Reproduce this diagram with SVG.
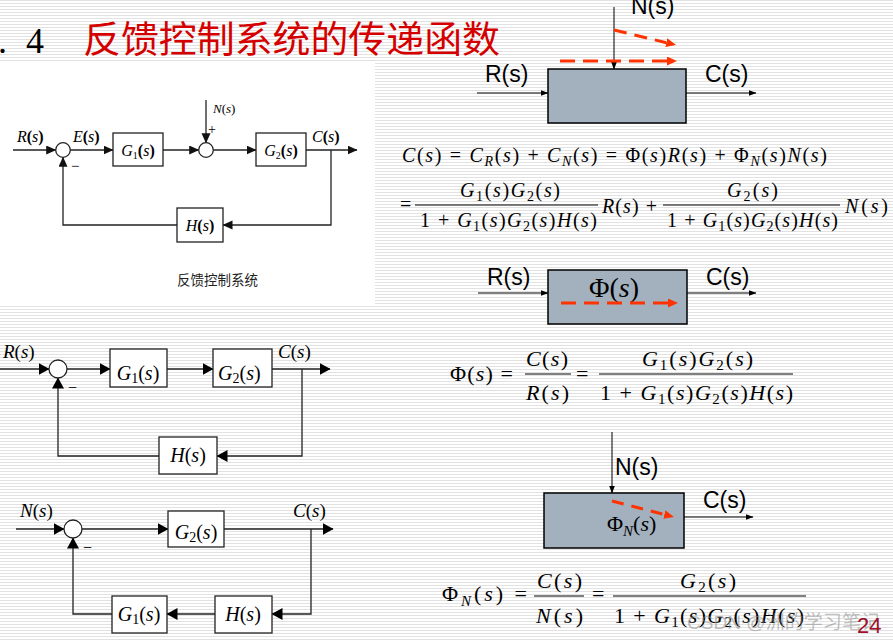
<svg xmlns="http://www.w3.org/2000/svg" width="893" height="642" viewBox="0 0 893 642">
<defs>
<pattern id="bg" width="8" height="3" patternUnits="userSpaceOnUse"><rect width="8" height="3" fill="#fff"/><rect width="8" height="1" fill="#e2e2e2"/></pattern>
<marker id="a1" markerUnits="userSpaceOnUse" markerWidth="11" markerHeight="10" refX="9.5" refY="4.5" orient="auto"><path d="M0,0 L10,4.5 L0,9 z" fill="#111"/></marker>
<marker id="a2" markerUnits="userSpaceOnUse" markerWidth="12" markerHeight="12" refX="10.5" refY="6" orient="auto"><path d="M0,0 L11,6 L0,12 z" fill="#000"/></marker>
<marker id="a3" markerUnits="userSpaceOnUse" markerWidth="9" markerHeight="7" refX="7.5" refY="3" orient="auto"><path d="M0,0 L8,3 L0,6 z" fill="#000"/></marker>
<marker id="ar" markerUnits="userSpaceOnUse" markerWidth="11" markerHeight="10" refX="0" refY="4.5" orient="auto"><path d="M0,0 L10,4.5 L0,9 z" fill="#ff3300"/></marker>
<style>
.ln{stroke:#222;stroke-width:1.3;fill:none}
.bx{fill:#fff;stroke:#222;stroke-width:1.3}
.rb{fill:#a3b1bf;stroke:#000;stroke-width:1.5}
.rl{stroke:#000;stroke-width:1;fill:none}
.rd{stroke:#ff3300;stroke-width:3;fill:none}
.ser{font-family:"Liberation Serif","Times New Roman",serif;fill:#000}
.san{font-family:"Liberation Sans",Arial,sans-serif;fill:#000}
.cjk{font-family:"Noto Sans CJK SC",sans-serif}
.i{font-style:italic}
.b{font-weight:bold}
</style>
</defs>
<rect width="893" height="642" fill="url(#bg)"/>
<rect x="0" y="62" width="375" height="243" fill="#fff"/>

<g id="title" fill="#d40000">
<text class="ser" x="-2" y="53" font-size="36" fill="#d40000">.</text>
<text class="ser" x="26" y="53" font-size="36" fill="#d40000">4</text>
<text class="cjk" x="83" y="53" font-size="37" textLength="417" lengthAdjust="spacingAndGlyphs">反馈控制系统的传递函数</text>
</g>

<!-- Top-left diagram -->
<g id="d1">
<g id="d1-connectors">
<line class="ln" x1="13" y1="150" x2="55.7" y2="150" marker-end="url(#a1)"/>
<line class="ln" x1="70.3" y1="150" x2="113" y2="150" marker-end="url(#a1)"/>
<line class="ln" x1="163" y1="150" x2="198.7" y2="150" marker-end="url(#a1)"/>
<line class="ln" x1="206" y1="100" x2="206" y2="142.7" marker-end="url(#a1)"/>
<line class="ln" x1="213.3" y1="150" x2="256" y2="150" marker-end="url(#a1)"/>
<line class="ln" x1="306" y1="150" x2="357" y2="150" marker-end="url(#a1)"/>
<polyline class="ln" points="331,150 331,225 223,225" marker-end="url(#a1)"/>
<polyline class="ln" points="177,225 63,225 63,157.3" marker-end="url(#a1)"/>
</g>
<g id="d1-sum1"><circle class="bx" cx="63" cy="150" r="7.3"/><text class="ser" x="71" y="171" font-size="15">−</text></g>
<g id="d1-G1"><rect class="bx" x="113" y="133" width="50" height="33"/><text class="ser" x="138" y="156" font-size="16" text-anchor="middle"><tspan class="i">G</tspan><tspan font-size="10" dy="3">1</tspan><tspan class="b" dy="-3">(</tspan><tspan class="i">s</tspan><tspan class="b">)</tspan></text></g>
<g id="d1-sum2"><circle class="bx" cx="206" cy="150" r="7.3"/><text class="ser" x="208" y="134" font-size="14">+</text></g>
<g id="d1-G2"><rect class="bx" x="256" y="133" width="50" height="33"/><text class="ser" x="281" y="156" font-size="16" text-anchor="middle"><tspan class="i">G</tspan><tspan font-size="10" dy="3">2</tspan><tspan class="b" dy="-3">(</tspan><tspan class="i">s</tspan><tspan class="b">)</tspan></text></g>
<g id="d1-H"><rect class="bx" x="177" y="208" width="46" height="34"/><text class="ser" x="200" y="231" font-size="16" text-anchor="middle"><tspan class="i">H</tspan><tspan class="b">(</tspan><tspan class="i">s</tspan><tspan class="b">)</tspan></text></g>
<g id="d1-labels">
<text class="ser" x="17" y="142" font-size="16"><tspan class="i">R</tspan><tspan class="b">(</tspan><tspan class="i">s</tspan><tspan class="b">)</tspan></text>
<text class="ser" x="73" y="142" font-size="16"><tspan class="i">E</tspan><tspan class="b">(</tspan><tspan class="i">s</tspan><tspan class="b">)</tspan></text>
<text class="ser" x="213" y="113" font-size="13"><tspan class="i">N</tspan>(<tspan class="i">s</tspan>)</text>
<text class="ser" x="312" y="142" font-size="16"><tspan class="i">C</tspan><tspan class="b">(</tspan><tspan class="i">s</tspan><tspan class="b">)</tspan></text>
<text class="cjk" x="177" y="285" font-size="13.5" fill="#222" textLength="81">反馈控制系统</text>
</g>
</g>

<!-- Top-right block -->
<g id="b1">
<g id="b1-connectors">
<line class="rl" x1="614" y1="7" x2="614" y2="69" marker-end="url(#a3)"/>
<line class="rl" x1="477" y1="93" x2="548" y2="93" marker-end="url(#a3)"/>
<line class="rl" x1="686" y1="93" x2="756" y2="93" marker-end="url(#a3)"/>
<line class="rd" x1="560" y1="61" x2="667" y2="61" stroke-dasharray="15 8" marker-end="url(#ar)"/>
<line class="rd" x1="614" y1="30" x2="666.3" y2="42.7" stroke-dasharray="13 8" marker-end="url(#ar)"/>
</g>
<g id="b1-box"><rect class="rb" x="548" y="69" width="138" height="54"/></g>
<text class="san" x="631" y="14" font-size="23">N(s)</text>
<text class="san" x="485" y="82" font-size="23">R(s)</text>
<text class="san" x="705" y="82" font-size="23">C(s)</text>
</g>

<!-- Equation lines -->
<g id="eq1" class="ser" font-size="20">
<text x="402" y="162" textLength="425"><tspan class="i">C</tspan>(<tspan class="i">s</tspan>) = <tspan class="i">C</tspan><tspan class="i" font-size="14" dy="4">R</tspan><tspan dy="-4">(</tspan><tspan class="i">s</tspan>) + <tspan class="i">C</tspan><tspan class="i" font-size="14" dy="4">N</tspan><tspan dy="-4">(</tspan><tspan class="i">s</tspan>) = Φ(<tspan class="i">s</tspan>)<tspan class="i">R</tspan>(<tspan class="i">s</tspan>) + Φ<tspan class="i" font-size="14" dy="4">N</tspan><tspan dy="-4">(</tspan><tspan class="i">s</tspan>)<tspan class="i">N</tspan>(<tspan class="i">s</tspan>)</text>
<text x="400" y="211">=</text>
<text x="460" y="197" textLength="100"><tspan class="i">G</tspan><tspan font-size="14" dy="4">1</tspan><tspan dy="-4">(</tspan><tspan class="i">s</tspan>)<tspan class="i">G</tspan><tspan font-size="14" dy="4">2</tspan><tspan dy="-4">(</tspan><tspan class="i">s</tspan>)</text>
<line x1="415" y1="205" x2="598" y2="205" stroke="#000" stroke-width="1"/>
<text x="420" y="227" textLength="177">1 + <tspan class="i">G</tspan><tspan font-size="14" dy="4">1</tspan><tspan dy="-4">(</tspan><tspan class="i">s</tspan>)<tspan class="i">G</tspan><tspan font-size="14" dy="4">2</tspan><tspan dy="-4">(</tspan><tspan class="i">s</tspan>)<tspan class="i">H</tspan>(<tspan class="i">s</tspan>)</text>
<text x="602" y="213" textLength="55"><tspan class="i">R</tspan>(<tspan class="i">s</tspan>) +</text>
<text x="727" y="197" textLength="51"><tspan class="i">G</tspan><tspan font-size="14" dy="4">2</tspan><tspan dy="-4">(</tspan><tspan class="i">s</tspan>)</text>
<line x1="663" y1="205" x2="840" y2="205" stroke="#000" stroke-width="1"/>
<text x="667" y="227" textLength="171">1 + <tspan class="i">G</tspan><tspan font-size="14" dy="4">1</tspan><tspan dy="-4">(</tspan><tspan class="i">s</tspan>)<tspan class="i">G</tspan><tspan font-size="14" dy="4">2</tspan><tspan dy="-4">(</tspan><tspan class="i">s</tspan>)<tspan class="i">H</tspan>(<tspan class="i">s</tspan>)</text>
<text x="845" y="213" textLength="43"><tspan class="i">N</tspan>(<tspan class="i">s</tspan>)</text>
</g>

<!-- Phi block -->
<g id="b2">
<g id="b2-connectors">
<line class="rl" x1="478" y1="293" x2="548" y2="293" marker-end="url(#a3)"/>
<line class="rl" x1="687" y1="293" x2="756" y2="293" marker-end="url(#a3)"/>
</g>
<g id="b2-box"><rect class="rb" x="548" y="270" width="139" height="54"/>
<text class="ser" x="614" y="297" font-size="28" text-anchor="middle">Φ(<tspan class="i">s</tspan>)</text>
<line class="rd" x1="561" y1="303" x2="668" y2="303" stroke-dasharray="15 8" marker-end="url(#ar)"/>
</g>
<text class="san" x="487" y="285" font-size="23">R(s)</text>
<text class="san" x="706" y="285" font-size="23">C(s)</text>
</g>

<!-- Phi equation -->
<g id="eq2" class="ser" font-size="22">
<text x="450" y="381" textLength="63">Φ(<tspan class="i">s</tspan>) =</text>
<text x="526" y="366" textLength="42"><tspan class="i">C</tspan>(<tspan class="i">s</tspan>)</text>
<line x1="525" y1="374" x2="571" y2="374" stroke="#000" stroke-width="1"/>
<text x="526" y="400" textLength="43"><tspan class="i">R</tspan>(<tspan class="i">s</tspan>)</text>
<text x="576" y="381">=</text>
<text x="642" y="366" textLength="111"><tspan class="i">G</tspan><tspan font-size="15" dy="4">1</tspan><tspan dy="-4">(</tspan><tspan class="i">s</tspan>)<tspan class="i">G</tspan><tspan font-size="15" dy="4">2</tspan><tspan dy="-4">(</tspan><tspan class="i">s</tspan>)</text>
<line x1="599" y1="374" x2="793" y2="374" stroke="#000" stroke-width="1"/>
<text x="600" y="400" textLength="193">1 + <tspan class="i">G</tspan><tspan font-size="15" dy="4">1</tspan><tspan dy="-4">(</tspan><tspan class="i">s</tspan>)<tspan class="i">G</tspan><tspan font-size="15" dy="4">2</tspan><tspan dy="-4">(</tspan><tspan class="i">s</tspan>)<tspan class="i">H</tspan>(<tspan class="i">s</tspan>)</text>
</g>

<!-- N block -->
<g id="b3">
<g id="b3-connectors">
<line class="rl" x1="612" y1="432" x2="612" y2="493" marker-end="url(#a3)"/>
<line class="rl" x1="684" y1="517" x2="753" y2="517" marker-end="url(#a3)"/>
</g>
<g id="b3-box"><rect class="rb" x="544" y="493" width="140" height="55"/>
<text class="ser" x="607" y="531" font-size="22">Φ<tspan class="i" font-size="15" dy="5">N</tspan><tspan dy="-5">(</tspan><tspan class="i">s</tspan>)</text>
<line class="rd" x1="612" y1="501" x2="664.3" y2="514.5" stroke-dasharray="12 8" marker-end="url(#ar)"/>
</g>
<text class="san" x="615" y="475" font-size="23">N(s)</text>
<text class="san" x="703" y="508" font-size="23">C(s)</text>
</g>

<!-- Phi_N equation -->
<g id="eq3" class="ser" font-size="22">
<text x="442" y="601" textLength="85">Φ<tspan class="i" font-size="15" dy="5">N</tspan><tspan dy="-5">(</tspan><tspan class="i">s</tspan>) =</text>
<text x="537" y="588" textLength="45"><tspan class="i">C</tspan>(<tspan class="i">s</tspan>)</text>
<line x1="534" y1="596" x2="584" y2="596" stroke="#000" stroke-width="1"/>
<text x="536" y="623" textLength="47"><tspan class="i">N</tspan>(<tspan class="i">s</tspan>)</text>
<text x="592" y="601">=</text>
<text x="680" y="588" textLength="56"><tspan class="i">G</tspan><tspan font-size="15" dy="4">2</tspan><tspan dy="-4">(</tspan><tspan class="i">s</tspan>)</text>
<line x1="613" y1="596" x2="806" y2="596" stroke="#000" stroke-width="1"/>
<text x="614" y="623" textLength="190">1 + <tspan class="i">G</tspan><tspan font-size="15" dy="4">1</tspan><tspan dy="-4">(</tspan><tspan class="i">s</tspan>)<tspan class="i">G</tspan><tspan font-size="15" dy="4">2</tspan><tspan dy="-4">(</tspan><tspan class="i">s</tspan>)<tspan class="i">H</tspan>(<tspan class="i">s</tspan>)</text>
</g>

<!-- Middle-left diagram -->
<g id="d2">
<g id="d2-connectors">
<line class="ln" x1="0" y1="369" x2="49" y2="369" marker-end="url(#a2)"/>
<line class="ln" x1="67" y1="369" x2="110" y2="369" marker-end="url(#a2)"/>
<line class="ln" x1="167" y1="369" x2="213" y2="369" marker-end="url(#a2)"/>
<line class="ln" x1="272" y1="369" x2="330" y2="369" marker-end="url(#a2)"/>
<polyline class="ln" points="302,369 302,456 217,456" marker-end="url(#a2)"/>
<polyline class="ln" points="159,456 58,456 58,378" marker-end="url(#a2)"/>
</g>
<g id="d2-sum"><circle class="bx" cx="58" cy="369" r="9"/><text class="ser" x="68" y="393" font-size="16">−</text></g>
<g id="d2-G1"><rect class="bx" x="110" y="349" width="57" height="38"/><text class="ser" x="138" y="380" font-size="20" text-anchor="middle"><tspan class="i">G</tspan><tspan font-size="14" dy="3">1</tspan><tspan dy="-3">(</tspan><tspan class="i">s</tspan>)</text></g>
<g id="d2-G2"><rect class="bx" x="213" y="349" width="59" height="38"/><text class="ser" x="218" y="380" font-size="20"><tspan class="i">G</tspan><tspan font-size="14" dy="3">2</tspan><tspan dy="-3">(</tspan><tspan class="i">s</tspan>)</text></g>
<g id="d2-H"><rect class="bx" x="159" y="437" width="58" height="37"/><text class="ser" x="188" y="462" font-size="20" text-anchor="middle"><tspan class="i">H</tspan>(<tspan class="i">s</tspan>)</text></g>
<text class="ser" x="3" y="358" font-size="19"><tspan class="i">R</tspan>(<tspan class="i">s</tspan>)</text>
<text class="ser" x="278" y="358" font-size="19"><tspan class="i">C</tspan>(<tspan class="i">s</tspan>)</text>
</g>

<!-- Bottom-left diagram -->
<g id="d3">
<g id="d3-connectors">
<line class="ln" x1="16" y1="529" x2="64" y2="529" marker-end="url(#a2)"/>
<line class="ln" x1="82" y1="529" x2="168" y2="529" marker-end="url(#a2)"/>
<line class="ln" x1="224" y1="529" x2="333" y2="529" marker-end="url(#a2)"/>
<polyline class="ln" points="311,529 311,614 272,614" marker-end="url(#a2)"/>
<line class="ln" x1="215" y1="614" x2="167" y2="614" marker-end="url(#a2)"/>
<polyline class="ln" points="112,614 73,614 73,538" marker-end="url(#a2)"/>
</g>
<g id="d3-sum"><circle class="bx" cx="73" cy="529" r="9"/><text class="ser" x="83" y="553" font-size="16">−</text></g>
<g id="d3-G2"><rect class="bx" x="168" y="511" width="56" height="36"/><text class="ser" x="196" y="539" font-size="20" text-anchor="middle"><tspan class="i">G</tspan><tspan font-size="14" dy="3">2</tspan><tspan dy="-3">(</tspan><tspan class="i">s</tspan>)</text></g>
<g id="d3-H"><rect class="bx" x="215" y="596" width="57" height="37"/><text class="ser" x="243" y="621" font-size="20" text-anchor="middle"><tspan class="i">H</tspan>(<tspan class="i">s</tspan>)</text></g>
<g id="d3-G1"><rect class="bx" x="112" y="596" width="55" height="37"/><text class="ser" x="139" y="621" font-size="20" text-anchor="middle"><tspan class="i">G</tspan><tspan font-size="14" dy="3">1</tspan><tspan dy="-3">(</tspan><tspan class="i">s</tspan>)</text></g>
<text class="ser" x="20" y="517" font-size="19"><tspan class="i">N</tspan>(<tspan class="i">s</tspan>)</text>
<text class="ser" x="293" y="517" font-size="19"><tspan class="i">C</tspan>(<tspan class="i">s</tspan>)</text>
</g>

<g id="footer">
<text x="687" y="629" font-size="19" font-family="Liberation Sans, Noto Sans CJK SC, sans-serif" fill="#8a8a8a" fill-opacity="0.55" textLength="193">CSDN @洲的学习笔记</text>
<text class="san" x="857" y="633" font-size="22" style="fill:#a0102a">24</text>
</g>
</svg>
